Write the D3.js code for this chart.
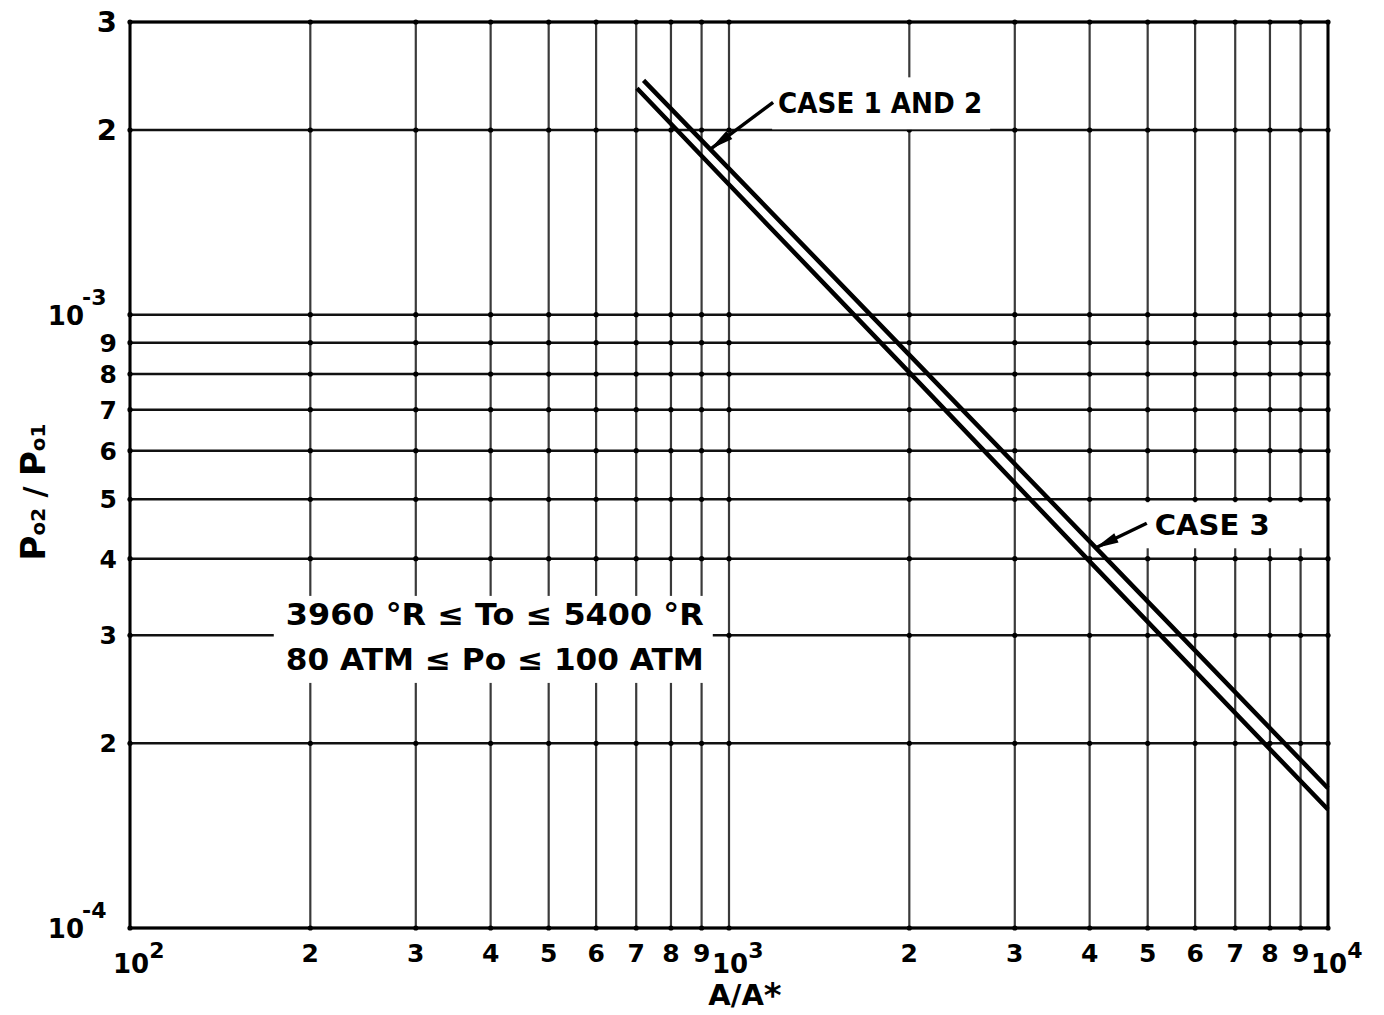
<!DOCTYPE html>
<html>
<head>
<meta charset="utf-8">
<title>P02/P01 vs A/A*</title>
<script src="https://d3js.org/d3.v7.min.js"></script>
<style>
  body { margin: 0; background: white; }
  svg { display: block; font-family: "DejaVu Sans", sans-serif; font-weight: bold; }
</style>
</head>
<body>
<svg id="chart"></svg>
<script>
const width = 1384, height = 1015;

// grid / tick values
const xDecades = [100, 1000, 10000];
const xDecadeExp = ["2", "3", "4"];
const digits = [2, 3, 4, 5, 6, 7, 8, 9];
const yDecades = [1e-4, 1e-3];
const yDecadeExp = ["-4", "-3"];
const yTopDigits = [2, 3];   // only 2e-3 and 3e-3 in the top decade

// the two curves
const case12X = [720, 1000, 2000, 4000, 10000];
const case12Y = [2.41e-3, 1.73e-3, 8.6e-4, 4.27e-4, 1.69e-4];
const case3X = [702, 1000, 2000, 4000, 10000];
const case3Y = [2.34e-3, 1.63e-3, 8.05e-4, 3.96e-4, 1.56e-4];

// callouts
const noteText = ["CASE 1 AND 2", "CASE 3"];
const noteAt = [[930, 1.86e-3], [4080, 4.16e-4]];

const condText = ["3960 \u00B0R \u2264 To \u2264  5400 \u00B0R", "80 ATM  \u2264 Po \u2264 100 ATM"];
const condAt = [182, 3.12e-4];

const x = d3.scaleLog().domain([100, 10000]).range([130, 1328]);
const y = d3.scaleLog().domain([1e-4, 3e-3]).range([928, 22]);

const xTicks = [];
xDecades.slice(0, 2).forEach(d => { xTicks.push(d); digits.forEach(k => xTicks.push(d * k)); });
xTicks.push(10000);
const yTicks = [1e-4];
digits.forEach(k => yTicks.push(1e-4 * k));
yTicks.push(1e-3);
yTopDigits.forEach(k => yTicks.push(1e-3 * k));

const svg = d3.select("#chart").attr("width", width).attr("height", height);
svg.append("rect").attr("width", width).attr("height", height).attr("fill", "white");

// vertical grid
svg.append("g").selectAll("line").data(xTicks).join("line")
    .attr("x1", d => x(d)).attr("x2", d => x(d))
    .attr("y1", y(3e-3)).attr("y2", y(1e-4))
    .attr("stroke", "#3a3a3a").attr("stroke-width", 2.2);

// horizontal grid
svg.append("g").selectAll("line").data(yTicks).join("line")
    .attr("x1", x(100)).attr("x2", x(10000))
    .attr("y1", d => y(d)).attr("y2", d => y(d))
    .attr("stroke", "#111").attr("stroke-width", 2.5);

// blobs where the grid lines cross
const crossings = d3.cross(xTicks, yTicks);
svg.append("g").selectAll("circle").data(crossings).join("circle")
    .attr("cx", d => x(d[0])).attr("cy", d => y(d[1]))
    .attr("r", 2.6).attr("fill", "#000");

// frame
svg.append("rect")
    .attr("x", x(100)).attr("y", y(3e-3))
    .attr("width", x(10000) - x(100)).attr("height", y(1e-4) - y(3e-3))
    .attr("fill", "none").attr("stroke", "#000").attr("stroke-width", 3);

// white patches behind the lettering
const cx0 = x(condAt[0]), cy0 = y(condAt[1]);
svg.append("rect").attr("x", cx0 - 12).attr("y", cy0 - 29)
    .attr("width", 439).attr("height", 87).attr("fill", "white");

const n1 = [x(noteAt[0][0]), y(noteAt[0][1])];
const n2 = [x(noteAt[1][0]), y(noteAt[1][1])];
svg.append("rect").attr("x", n1[0] + 62).attr("y", n1[1] - 72)
    .attr("width", 218).attr("height", 52).attr("fill", "white");
svg.append("rect").attr("x", n2[0] + 20).attr("y", n2[1] - 46)
    .attr("width", 197).attr("height", 46).attr("fill", "white");

// curves
const line = d3.line().x(d => x(d[0])).y(d => y(d[1]));
svg.append("path").datum(d3.zip(case12X, case12Y)).attr("d", line)
    .attr("fill", "none").attr("stroke", "#000").attr("stroke-width", 4.5);
svg.append("path").datum(d3.zip(case3X, case3Y)).attr("d", line)
    .attr("fill", "none").attr("stroke", "#000").attr("stroke-width", 4.5);

// callouts with arrows
const callouts = [
    { tip: n1, tail: [n1[0] + 63, n1[1] - 47], tx: n1[0] + 68, ty: n1[1] - 36, w: 204 },
    { tip: n2, tail: [n2[0] + 52, n2[1] - 25], tx: n2[0] + 60, ty: n2[1] - 13, w: 115 }
];
callouts.forEach((c, i) => {
    svg.append("line")
        .attr("x1", c.tail[0]).attr("y1", c.tail[1])
        .attr("x2", c.tip[0]).attr("y2", c.tip[1])
        .attr("stroke", "#000").attr("stroke-width", 3.5);
    const dx = c.tail[0] - c.tip[0], dy = c.tail[1] - c.tip[1];
    const len = Math.hypot(dx, dy), ux = dx / len, uy = dy / len;
    const bx = c.tip[0] + ux * 24, by = c.tip[1] + uy * 24;
    svg.append("polygon")
        .attr("points", [c.tip, [bx - uy * 5, by + ux * 5], [bx + uy * 5, by - ux * 5]].map(p => p.join(",")).join(" "))
        .attr("fill", "#000");
    svg.append("text").attr("x", c.tx).attr("y", c.ty)
        .attr("font-size", 29).attr("textLength", c.w).attr("lengthAdjust", "spacingAndGlyphs")
        .text(noteText[i]);
});

// operating range text
svg.append("g").selectAll("text").data(condText).join("text")
    .attr("x", cx0).attr("y", (d, i) => cy0 + i * 45)
    .attr("font-size", 30).attr("textLength", 418).attr("lengthAdjust", "spacingAndGlyphs")
    .text(d => d);

// x tick labels
const xDigitTicks = [];
xDecades.slice(0, 2).forEach(d => digits.forEach(k => xDigitTicks.push([d * k, k])));
svg.append("g").selectAll("text").data(xDigitTicks).join("text")
    .attr("x", d => x(d[0])).attr("y", 962)
    .attr("text-anchor", "middle").attr("font-size", 25)
    .text(d => d[1]);
const xDec = svg.append("g").selectAll("text").data(xDecades).join("text")
    .attr("x", d => x(d) - 17).attr("y", 973).attr("font-size", 26);
xDec.append("tspan").text("10");
xDec.append("tspan").attr("dy", -15).attr("font-size", 22).text((d, i) => xDecadeExp[i]);

// y tick labels
const yDigitTicks = digits.map(k => [1e-4 * k, k, 25]).concat(yTopDigits.map(k => [1e-3 * k, k, 29]));
svg.append("g").selectAll("text").data(yDigitTicks).join("text")
    .attr("x", 117).attr("y", d => y(d[0]) + d[2] * 0.36)
    .attr("text-anchor", "end").attr("font-size", d => d[2])
    .text(d => d[1]);
svg.append("g").selectAll("text").data(yDecades).join("text")
    .attr("x", 84).attr("y", d => y(d) + 10)
    .attr("text-anchor", "end").attr("font-size", 26).text("10");
svg.append("g").selectAll("text").data(yDecades).join("text")
    .attr("x", 82).attr("y", d => y(d) - 10)
    .attr("font-size", 22).text((d, i) => yDecadeExp[i]);

// axis titles
const xt = svg.append("text").attr("x", 745).attr("y", 1005)
    .attr("text-anchor", "middle").attr("font-size", 29);
xt.append("tspan").text("A/A");
xt.append("tspan").attr("font-size", 34).attr("dy", 2).text("*");

const yt = svg.append("text").attr("transform", "translate(45,492) rotate(-90)")
    .attr("text-anchor", "middle");
yt.append("tspan").attr("font-size", 34).text("P");
yt.append("tspan").attr("font-size", 20).text("o2");
yt.append("tspan").attr("font-size", 30).text(" / ");
yt.append("tspan").attr("font-size", 34).text("P");
yt.append("tspan").attr("font-size", 20).text("o1");
</script>
</body>
</html>
